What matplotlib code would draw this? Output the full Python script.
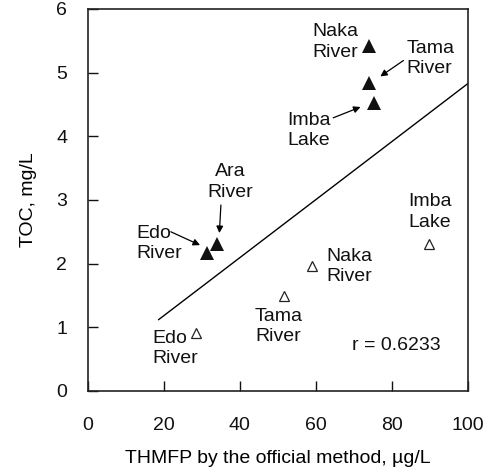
import matplotlib.pyplot as plt
import numpy as np

plt.rcParams['font.family'] = ['Liberation Sans', 'DejaVu Sans']

# TOC vs THMFP, filled = one method, open = official method
sites = ['Edo River', 'Ara River', 'Imba Lake', 'Tama River', 'Naka River']
thmfp_filled = [31.3, 34.1, 75.3, 74.1, 74.1]
toc_filled = [2.17, 2.31, 4.53, 4.83, 5.42]

sites_open = ['Edo River', 'Tama River', 'Naka River', 'Imba Lake']
thmfp_open = [28.4, 51.7, 59.0, 89.8]
toc_open = [0.91, 1.49, 1.97, 2.31]

# fitted line
fit_x = [18.6, 100.0]
fit_slope = 0.0455
fit_intercept = 0.274
r_value = 0.6233

fig = plt.figure(figsize=(4.84, 4.71), dpi=100)
ax = fig.add_axes([0.182, 0.170, 0.784, 0.811])

ax.plot(thmfp_filled, toc_filled, '^', color='#111111', ms=10, mew=0)
ax.plot(thmfp_open, toc_open, '^', mfc='white', mec='#222222', ms=6.5, mew=0.9)

fx = np.array(fit_x)
ax.plot(fx, fit_slope * fx + fit_intercept, color='black', lw=1.0)

fs = 14
txt = dict(fontsize=fs, color='#111111', va='center', linespacing=1.25)

# labels for the filled points
ax.text(65.2, 5.48, 'Naka\nRiver', ha='center', **txt)
ax.text(84.0, 5.22, 'Tama\nRiver', ha='left', **txt)
ax.text(52.6, 4.09, 'Imba\nLake', ha='left', **txt)
ax.text(37.5, 3.28, 'Ara\nRiver', ha='center', **txt)
ax.text(12.7, 2.32, 'Edo\nRiver', ha='left', **txt)

arrow = dict(arrowstyle='-|>', color='black', lw=0.9, mutation_scale=10,
             shrinkA=0, shrinkB=0)
ax.annotate('', xy=(77.0, 4.94), xytext=(83.1, 5.19), arrowprops=arrow)
ax.annotate('', xy=(71.8, 4.46), xytext=(64.6, 4.29), arrowprops=arrow)
ax.annotate('', xy=(34.6, 2.48), xytext=(35.0, 2.92), arrowprops=arrow)
ax.annotate('', xy=(29.5, 2.29), xytext=(21.8, 2.50), arrowprops=arrow)

# labels for the open points
ax.text(17.0, 0.67, 'Edo\nRiver', ha='left', **txt)
ax.text(44.0, 1.01, 'Tama\nRiver', ha='left', **txt)
ax.text(62.8, 1.95, 'Naka\nRiver', ha='left', **txt)
ax.text(84.5, 2.81, 'Imba\nLake', ha='left', **txt)

ax.text(69.5, 0.71, f'r = {r_value}', ha='left', **txt)

ax.set_xlim(0, 100)
ax.set_ylim(0, 6)
ax.set_xticks([0, 20, 40, 60, 80, 100])
ax.set_yticks([0, 1, 2, 3, 4, 5, 6])
ax.tick_params(direction='in', length=7, width=1, labelsize=14,
               colors='#111111')
ax.tick_params(axis='x', pad=19)
ax.tick_params(axis='y', pad=19)
for t in ax.get_yticklabels():
    t.set_horizontalalignment('center')
for s in ax.spines.values():
    s.set_linewidth(1.2)
    s.set_color('#222222')

ax.set_xlabel('THMFP by the official method, µg/L', fontsize=14, labelpad=11)
ax.set_ylabel('TOC, mg/L', fontsize=14, labelpad=14)

fig.savefig('out.png', dpi=100)
